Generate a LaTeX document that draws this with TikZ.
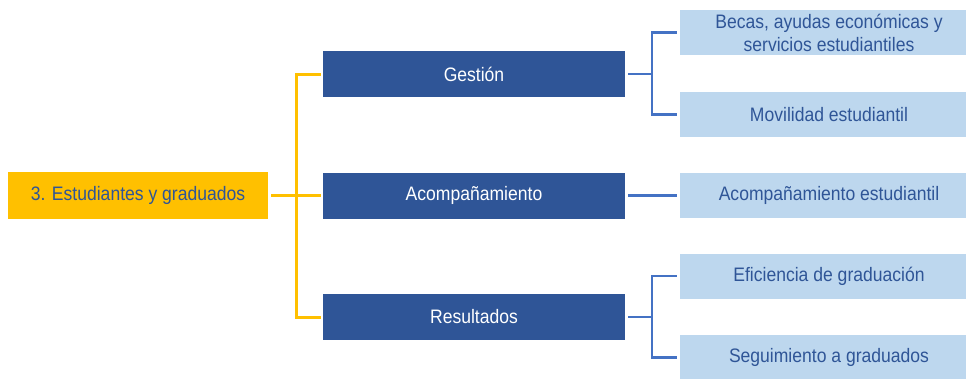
\documentclass[tikz,border=0pt]{standalone}
\usepackage{fontspec}
\newfontfamily\dg[FakeStretch=0.9]{Liberation Sans}
\definecolor{yel}{HTML}{FFC000}
\definecolor{dblue}{HTML}{2F5597}
\definecolor{lblue}{HTML}{BDD7EE}
\definecolor{lineblue}{HTML}{4472C4}
\begin{document}
\begin{tikzpicture}[x=1pt,y=-1pt,
  box/.style={rectangle,inner sep=0pt,align=center,font=\dg\fontsize{19.5}{23}\selectfont},
  lbox/.style={box,fill=yel,text=dblue,minimum width=260pt,minimum height=47pt},
  mbox/.style={box,fill=dblue,text=white,minimum width=302pt,minimum height=46pt},
  rbox/.style={box,fill=lblue,text=dblue,minimum width=298pt,minimum height=45pt},
  yl/.style={draw=yel,line width=3pt},
  bl/.style={draw=lineblue,line width=2.5pt}]
\useasboundingbox (0,0) rectangle (966,378);
\node[lbox] (Y) at (138,195.5) {3. Estudiantes y graduados};
\node[mbox] (M1) at (474,74) {Gestión};
\node[mbox] (M2) at (474,195.5) {Acompañamiento};
\node[mbox] (M3) at (474,317) {Resultados};
\node[rbox] (R1) at (829,32.5) {Becas, ayudas económicas y\\servicios estudiantiles};
\node[rbox] (R2) at (829,114.5) {Movilidad estudiantil};
\node[rbox] (R3) at (829,195.5) {Acompañamiento estudiantil};
\node[rbox] (R4) at (829,276) {Eficiencia de graduación};
\node[rbox] (R5) at (829,357.5) {Seguimiento a graduados};
\coordinate (jy) at (296,195.5);
\coordinate (jb1) at (652,74);
\coordinate (jb3) at (652,317);
\draw[yl] ([xshift=3pt]Y.east) -- ([xshift=-2pt]M2.west);
\draw[yl] ([xshift=-2pt]M1.west) -| (jy) |- ([xshift=-2pt]M3.west);
\draw[bl] ([xshift=3pt]M1.east) -- (jb1);
\draw[bl] ([xshift=-3pt]R1.west) -| (jb1) |- ([xshift=-3pt]R2.west);
\draw[bl] ([xshift=3pt]M2.east) -- ([xshift=-3pt]R3.west);
\draw[bl] ([xshift=3pt]M3.east) -- (jb3);
\draw[bl] ([xshift=-3pt]R4.west) -| (jb3) |- ([xshift=-3pt]R5.west);
\end{tikzpicture}
\end{document}
